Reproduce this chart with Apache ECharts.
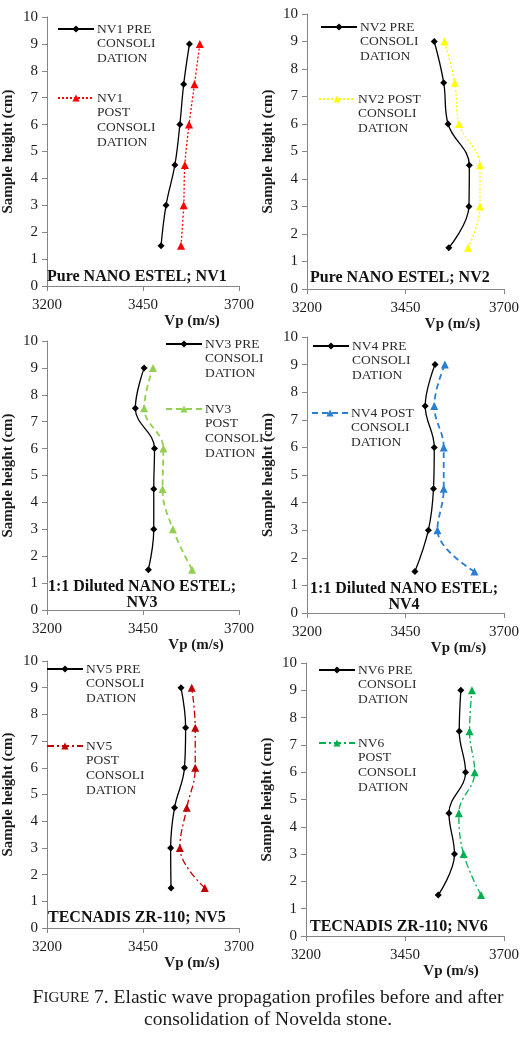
<!DOCTYPE html>
<html lang="en">
<head>
  <meta charset="utf-8">
  <title>Elastic wave propagation profiles</title>
  <script src="https://cdn.jsdelivr.net/npm/echarts@6/dist/echarts.min.js"></script>
  <style>
    html, body { margin: 0; padding: 0; background: #fff; }
    #container { width: 531px; height: 1037px; }
  </style>
</head>
<body>
<div id="container"></div>
<script>
  // sample heights (cm) where Vp was measured
  var heights = [1.5, 3, 4.5, 6, 7.5, 9];
  var vpTicks = [3200, 3450, 3700];

  // Vp (m/s) before / after consolidation, listed from 1.5 cm up to 9 cm
  var nv1Pre  = [3497, 3510, 3533, 3546, 3556, 3571];
  var nv1Post = [3549, 3556, 3559, 3570, 3584, 3598];
  var nv2Pre  = [3560, 3611, 3612, 3558, 3547, 3523];
  var nv2Post = [3609, 3639, 3639, 3586, 3575, 3549];
  var nv3Pre  = [3464, 3478, 3478, 3480, 3430, 3453];
  var nv3Post = [3578, 3528, 3501, 3503, 3453, 3476];
  var nv4Pre  = [3474, 3508, 3521, 3523, 3500, 3525];
  var nv4Post = [3625, 3531, 3547, 3547, 3523, 3550];
  var nv5Pre  = [3523, 3522, 3532, 3558, 3561, 3549];
  var nv5Post = [3611, 3546, 3564, 3586, 3586, 3577];
  var nv6Pre  = [3534, 3575, 3561, 3603, 3587, 3591];
  var nv6Post = [3642, 3598, 3586, 3626, 3613, 3619];

  var panelTitles = [
    'Pure NANO ESTEL; NV1',
    'Pure NANO ESTEL; NV2',
    '1:1 Diluted NANO ESTEL;\nNV3',
    '1:1 Diluted NANO ESTEL;\nNV4',
    'TECNADIS ZR-110; NV5',
    'TECNADIS ZR-110; NV6'
  ];
  var preNames = [
    'NV1 PRE\nCONSOLI\nDATION', 'NV2 PRE\nCONSOLI\nDATION', 'NV3 PRE\nCONSOLI\nDATION',
    'NV4 PRE\nCONSOLI\nDATION', 'NV5 PRE\nCONSOLI\nDATION', 'NV6 PRE\nCONSOLI\nDATION'
  ];
  var postNames = [
    'NV1\nPOST\nCONSOLI\nDATION', 'NV2 POST\nCONSOLI\nDATION', 'NV3\nPOST\nCONSOLI\nDATION',
    'NV4 POST\nCONSOLI\nDATION', 'NV5\nPOST\nCONSOLI\nDATION', 'NV6\nPOST\nCONSOLI\nDATION'
  ];
  var preData = [nv1Pre, nv2Pre, nv3Pre, nv4Pre, nv5Pre, nv6Pre];
  var postData = [nv1Post, nv2Post, nv3Post, nv4Post, nv5Post, nv6Post];

  // post-consolidation line looks
  var postColors = ['#ff0000', '#ffff00', '#92d050', '#2a7fd0', '#c00000', '#00b050'];
  var postDash = [[2, 2], [2, 2], [6, 4], [6, 4], [7, 3, 2, 3], [7, 3, 2, 3]];
  var postWidth = [1.3, 1.3, 1.8, 1.8, 1.3, 1.3];

  // layout of each panel: plot box, legend anchors, title spot, axis-name tweaks
  var layout = [
    { grid: [43, 17, 196, 269],  pre: [57, 29],   post: [57, 98],   title: [47, 269, 'left'],   xGap: 23, xShift: 98 },
    { grid: [307, 14, 197, 275], pre: [320, 27],  post: [318, 99],  title: [310, 270, 'left'],  xGap: 21, xShift: 94 },
    { grid: [42, 341, 197, 269], pre: [165, 344], post: [165, 409], title: [142, 579, 'center'], xGap: 22, xShift: 106 },
    { grid: [307, 337, 197, 276], pre: [312, 346], post: [311, 413], title: [404, 581, 'center'], xGap: 20, xShift: 106 },
    { grid: [43, 661, 196, 267], pre: [46, 669],  post: [46, 746],  title: [48, 910, 'left'],   xGap: 23, xShift: 98 },
    { grid: [306, 663, 198, 273], pre: [318, 670], post: [318, 743], title: [310, 919, 'left'],  xGap: 15, xShift: 92 }
  ];

  var serif = "'Liberation Serif', 'Times New Roman', serif";
  var axisGray = '#868686';
  var legendLH = 14.8;

  function pairs(vals) {
    return vals.map(function (v, i) { return [v, heights[i]]; });
  }

  function legendFor(name, pos) {
    var n = name.split('\n').length;
    var blockH = (2 * n - 1) * legendLH;
    return {
      data: [name],
      orient: 'vertical',
      left: pos[0],
      top: pos[1] - blockH / 2,
      padding: 0,
      itemWidth: 36,
      itemHeight: 9,
      itemGap: 0,
      selectedMode: false,
      formatter: function (nm) {
        // pad with blank lines so the first text line sits on the icon
        return new Array(nm.split('\n').length).join('\n') + nm;
      },
      textStyle: { fontFamily: serif, fontSize: 13.5, lineHeight: legendLH, color: '#2b2b2b', padding: [0, 0, 0, -2] }
    };
  }

  var grids = [], xAxes = [], yAxes = [], series = [], legends = [], titles = [];

  layout.forEach(function (L, i) {
    grids.push({ left: L.grid[0], top: L.grid[1], width: L.grid[2], height: L.grid[3] });
    xAxes.push({
      type: 'value', gridIndex: i, min: vpTicks[0], max: vpTicks[2], interval: vpTicks[1] - vpTicks[0],
      name: 'Vp (m/s)', nameLocation: 'middle', nameGap: L.xGap,
      nameTextStyle: { fontFamily: serif, fontSize: 15, fontWeight: 'bold', color: '#1a1a1a', padding: [0, 0, 0, L.xShift] },
      axisLine: { show: true, lineStyle: { color: axisGray } },
      axisTick: { show: true, length: 5, lineStyle: { color: axisGray } },
      axisLabel: {
        fontFamily: serif, fontSize: 15, color: '#1a1a1a', margin: 12,
        formatter: function (v) { return String(v); }
      },
      splitLine: { show: false }
    });
    yAxes.push({
      type: 'value', gridIndex: i, min: 0, max: 10, interval: 1,
      name: 'Sample height (cm)', nameLocation: 'middle', nameGap: 31,
      nameTextStyle: { fontFamily: serif, fontSize: 15, fontWeight: 'bold', color: '#1a1a1a' },
      axisLine: { show: true, lineStyle: { color: axisGray } },
      axisTick: { show: true, length: 5, lineStyle: { color: axisGray } },
      axisLabel: { fontFamily: serif, fontSize: 15, color: '#1a1a1a', margin: 9 },
      splitLine: { show: false }
    });
    series.push({
      name: preNames[i], type: 'line', xAxisIndex: i, yAxisIndex: i,
      data: pairs(preData[i]), smooth: 0.4,
      symbol: 'diamond', symbolSize: 7,
      itemStyle: { color: '#000' },
      lineStyle: { color: '#000', width: 1.3 },
      z: 3
    });
    series.push({
      name: postNames[i], type: 'line', xAxisIndex: i, yAxisIndex: i,
      data: pairs(postData[i]), smooth: 0.4,
      symbol: 'triangle', symbolSize: 8,
      itemStyle: { color: postColors[i] },
      lineStyle: { color: postColors[i], width: postWidth[i], type: postDash[i] },
      z: 2
    });
    legends.push(legendFor(preNames[i], L.pre));
    legends.push(legendFor(postNames[i], L.post));
    var t = {
      text: panelTitles[i], left: L.title[0], top: L.title[1], padding: 0,
      textStyle: { fontFamily: serif, fontSize: 16, fontWeight: 'bold', color: '#111', lineHeight: 16 }
    };
    if (L.title[2] === 'center') t.textAlign = 'center';
    titles.push(t);
  });

  titles.push({
    text: '{cap|F}{sc|IGURE} 7. Elastic wave propagation profiles before and after\nconsolidation of Novelda stone.',
    left: 268, top: 987, padding: 0, textAlign: 'center',
    textStyle: {
      fontFamily: serif, fontSize: 19.5, fontWeight: 'normal', color: '#1a1a1a', lineHeight: 22,
      rich: {
        cap: { fontFamily: serif, fontSize: 19.5, color: '#1a1a1a' },
        sc: { fontFamily: serif, fontSize: 15, color: '#1a1a1a' }
      }
    }
  });

  var chart = echarts.init(document.getElementById('container'));
  var option = {
    backgroundColor: '#fff',
    animation: false,
    title: titles,
    legend: legends,
    grid: grids,
    xAxis: xAxes,
    yAxis: yAxes,
    series: series
  };
  chart.setOption(option);
</script>
</body>
</html>
